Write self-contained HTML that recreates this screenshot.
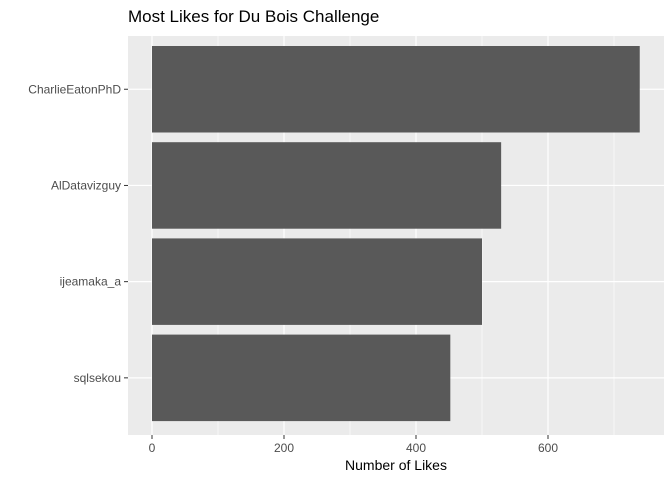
<!DOCTYPE html>
<html><head><meta charset="utf-8"><style>
body{margin:0;background:#fff;font-family:"Liberation Sans",Arial,sans-serif}
</style></head><body>
<svg width="672" height="480" id="c">
<text x="128" y="22" font-size="17" fill="#000">Most Likes for Du Bois Challenge</text>
<rect x="128" y="36" width="536" height="399" fill="#ebebeb"/>
<g id="grid"></g><g id="bars"></g><g id="axes"></g>
<text x="396" y="470" font-size="14" text-anchor="middle" fill="#000">Number of Likes</text>
</svg>
<script>
const categories=["CharlieEatonPhD","AlDatavizguy","ijeamaka_a","sqlsekou"];
const likes=[739,529,500,452];
const ticks=[0,200,400,600];
const ns="http://www.w3.org/2000/svg";
const x0=152,sc=0.66,top0=46,band=96.2,bh=86.5;
const X=v=>x0+v*sc;
const Y=i=>top0+i*band;
function mk(t,a,p){const e=document.createElementNS(ns,t);for(const k in a)e.setAttribute(k,a[k]);p.appendChild(e);return e;}
const g=document.getElementById('grid'),b=document.getElementById('bars'),ax=document.getElementById('axes');
[100,300,500,700].forEach(v=>{const l=mk('line',{x1:X(v),x2:X(v),y1:36,y2:435,stroke:'#fff','stroke-width':0.6},g);

});
ticks.forEach(v=>{const l=mk('line',{x1:X(v),x2:X(v),y1:36,y2:435,stroke:'#fff','stroke-width':1.2},g);


const t=mk('line',{x1:X(v),x2:X(v),y1:435,y2:439,stroke:'#333','stroke-width':1},ax);


const s=mk('text',{x:X(v),y:452,'font-size':12,'text-anchor':'middle',fill:'#4d4d4d'},ax);s.textContent=v;

});
categories.forEach((c,i)=>{const cy=Y(i)+bh/2;
const l=mk('line',{x1:128,x2:664,y1:cy,y2:cy,stroke:'#fff','stroke-width':1.2},g);


const r=mk('rect',{x:X(0),y:Y(i),width:X(likes[i])-X(0),height:bh,fill:'#595959'},b);


const t=mk('line',{x1:124,x2:128,y1:cy,y2:cy,stroke:'#333','stroke-width':1},ax);


const s=mk('text',{x:121,y:cy+4,'font-size':12,'text-anchor':'end',fill:'#4d4d4d'},ax);s.textContent=c;

});
</script>
</body></html>
